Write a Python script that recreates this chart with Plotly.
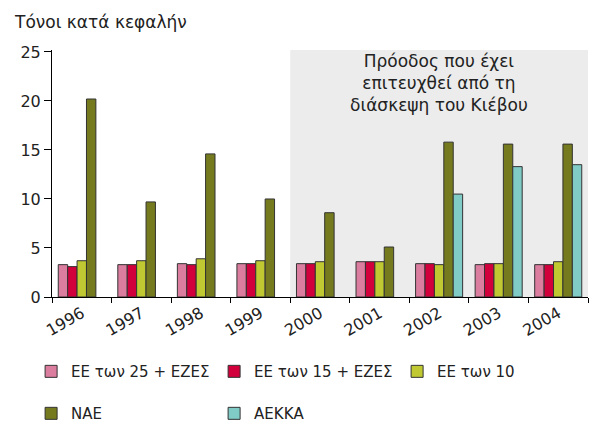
import plotly.graph_objects as go

years = ["1996", "1997", "1998", "1999", "2000", "2001", "2002", "2003", "2004"]
series_names = ["ΕΕ των 25 + ΕΖΕΣ", "ΕΕ των 15 + ΕΖΕΣ", "ΕΕ των 10", "ΝΑΕ", "ΑΕΚΚΑ"]
eu25 = [3.3, 3.3, 3.4, 3.4, 3.4, 3.6, 3.4, 3.3, 3.3]
eu15 = [3.1, 3.3, 3.3, 3.4, 3.4, 3.6, 3.4, 3.4, 3.3]
eu10 = [3.7, 3.7, 3.9, 3.7, 3.6, 3.6, 3.3, 3.4, 3.6]
nae = [20.2, 9.7, 14.6, 10.0, 8.6, 5.1, 15.8, 15.6, 15.6]
aekka = [None, None, None, None, None, None, 10.5, 13.3, 13.5]
colors = ["#DA7D9E", "#D1003C", "#C0C932", "#757A1E", "#80CBC6"]

FONT = "DejaVu Sans"
TXT = "#222222"
fig = go.Figure()
values = [eu25, eu15, eu10, nae, aekka]
for i, (name, vals, col) in enumerate(zip(series_names, values, colors)):
    fig.add_trace(go.Bar(
        x=years, y=vals, name=name,
        marker=dict(color=col, line=dict(color="#333333", width=1)),
        legend="legend" if i < 3 else "legend2",
    ))

fig.add_shape(type="rect", xref="x", yref="y", x0=3.5, x1=8.5, y0=0, y1=25.2,
              fillcolor="#EBECEB", line=dict(width=0), layer="below")

fig.add_annotation(text="Πρόοδος που έχει<br>επιτευχθεί από τη<br>διάσκεψη του Κιέβου",
                   xref="x", yref="paper", x=6.0, y=1.004, xanchor="center", yanchor="top",
                   showarrow=False, font=dict(family=FONT, size=17, color=TXT), align="center")
fig.add_annotation(text="Τόνοι κατά κεφαλήν", xref="paper", yref="paper",
                   x=-0.0746, y=1.113, xanchor="left", yanchor="middle",
                   showarrow=False, font=dict(family=FONT, size=17, color=TXT))

legend_common = dict(orientation="h", xanchor="left", yanchor="middle",
                     font=dict(family=FONT, size=15, color=TXT),
                     entrywidth=138, entrywidthmode="pixels",
                     bgcolor="rgba(0,0,0,0)", traceorder="normal")
fig.update_layout(
    width=590, height=415,
    margin=dict(l=44, r=10, t=42, b=126, autoexpand=False),
    paper_bgcolor="white", plot_bgcolor="white",
    barmode="group", bargap=0.21, bargroupgap=0,
    font=dict(family=FONT, size=16, color=TXT),
    showlegend=True,
    legend=dict(x=-0.039, y=-0.302, **legend_common),
    legend2=dict(x=-0.039, y=-0.472, **legend_common),
    xaxis=dict(type="category", tickson="boundaries", ticks="outside", ticklen=5,
               tickcolor="black", showline=True, linecolor="black", linewidth=1,
               tickangle=-30, showgrid=False, tickfont=dict(family=FONT, size=16)),
    yaxis=dict(range=[0, 25.2], tickvals=[0, 5, 10, 15, 20, 25], ticks="outside", ticklen=7,
               tickcolor="black", showline=True, linecolor="black", linewidth=1,
               showgrid=False, zeroline=False, tickfont=dict(family=FONT, size=16)),
)

fig.write_html("out.html")
